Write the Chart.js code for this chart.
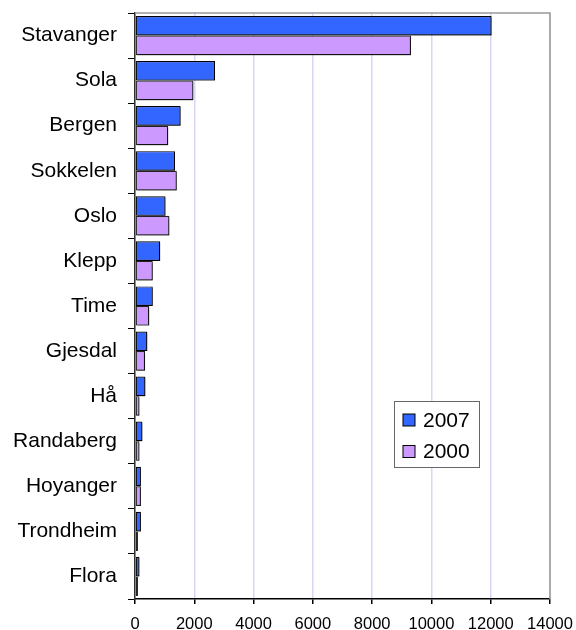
<!DOCTYPE html>
<html>
<head>
<meta charset="utf-8">
<script src="https://cdn.jsdelivr.net/npm/chart.js@4"></script>
<style>
    html, body { margin: 0; padding: 0; background: #fff; }
    #wrap { width: 576px; height: 630px; }
</style>
</head>
<body>
<div id="wrap"><canvas id="chart" width="576" height="630"></canvas></div>
<script>
// Data
const places = ['Stavanger', 'Sola', 'Bergen', 'Sokkelen', 'Oslo', 'Klepp', 'Time',
    'Gjesdal', 'Hå', 'Randaberg', 'Hoyanger', 'Trondheim', 'Flora'];
const values2007 = [12030, 2700, 1540, 1350, 1030, 850, 600, 415, 350, 250, 200, 200, 150];
const values2000 = [9310, 1970, 1120, 1410, 1160, 600, 480, 340, 150, 150, 200, 100, 100];
const xTicks = [0, 2000, 4000, 6000, 8000, 10000, 12000, 14000];

const FONT = "'Liberation Sans', Arial, sans-serif";

// Drop shadow under the bars
const barShadow = {
    id: 'barShadow',
    beforeDatasetsDraw(chart) {
        const ctx = chart.ctx;
        ctx.save();
        ctx.shadowColor = 'rgba(0,0,0,0.45)';
        ctx.shadowOffsetX = 1.5;
        ctx.shadowOffsetY = 1.5;
        ctx.shadowBlur = 0;
    },
    afterDatasetsDraw(chart) {
        chart.ctx.restore();
    }
};

// Gray frame on top and right of the plot
const plotFrame = {
    id: 'plotFrame',
    beforeDatasetsDraw(chart) {
        const { ctx, chartArea: a } = chart;
        ctx.save();
        ctx.strokeStyle = '#999';
        ctx.lineWidth = 1.5;
        ctx.beginPath();
        ctx.moveTo(a.left, a.top);
        ctx.lineTo(a.right, a.top);
        ctx.lineTo(a.right, a.bottom);
        ctx.stroke();
        ctx.restore();
    }
};

// Legend box inside the plot
const boxLegend = {
    id: 'boxLegend',
    afterDraw(chart) {
        const { ctx, chartArea: a } = chart;
        const x = a.right - 156, y = a.top + 388, w = 85, h = 66;
        ctx.save();
        ctx.fillStyle = '#fff';
        ctx.fillRect(x, y, w, h);
        ctx.strokeStyle = '#666';
        ctx.lineWidth = 1;
        ctx.strokeRect(x + 0.5, y + 0.5, w, h);
        ctx.font = '21px ' + FONT;
        ctx.textBaseline = 'middle';
        chart.data.datasets.forEach((ds, i) => {
            const cy = y + 19 + i * 31.5;
            ctx.fillStyle = ds.backgroundColor;
            ctx.fillRect(x + 9, cy - 6, 12, 12);
            ctx.strokeStyle = '#000';
            ctx.strokeRect(x + 9, cy - 6, 12, 12);
            ctx.fillStyle = '#000';
            ctx.fillText(ds.label, x + 29, cy + 1);
        });
        ctx.restore();
    }
};

// keep the layout padding in charge of the plot position
function noScalePadding(scale) {
    scale.paddingTop = 0;
    scale.paddingBottom = 0;
    scale.paddingLeft = 0;
    scale.paddingRight = 0;
}

const chart = new Chart(document.getElementById('chart'), {
    type: 'bar',
    data: {
        labels: places,
        datasets: [
            {
                label: '2007',
                data: values2007,
                backgroundColor: '#3366ff',
                borderColor: '#000',
                borderWidth: 1.2,
                borderSkipped: false
            },
            {
                label: '2000',
                data: values2000,
                backgroundColor: '#cc99ff',
                borderColor: '#222',
                borderWidth: 1.2,
                borderSkipped: false
            }
        ]
    },
    options: {
        indexAxis: 'y',
        responsive: false,
        animation: false,
        categoryPercentage: 0.87,
        barPercentage: 1.0,
        layout: { padding: { top: 13, right: 26, left: 0, bottom: 0 } },
        plugins: {
            legend: { display: false },
            tooltip: { enabled: false }
        },
        scales: {
            x: {
                min: 0,
                max: 14000,
                afterBuildTicks: (scale) => { scale.ticks = xTicks.map(v => ({ value: v })); },
                afterFit: (scale) => { scale.height = 31; noScalePadding(scale); },
                grid: {
                    color: '#d6d6f6',
                    lineWidth: 1.5,
                    tickColor: '#000',
                    tickLength: 5
                },
                border: { color: '#000', width: 1.5 },
                ticks: {
                    color: '#000',
                    padding: 11,
                    maxRotation: 0,
                    callback: (v) => String(v),
                    font: { family: FONT, size: 16.5 }
                }
            },
            y: {
                afterFit: (scale) => { scale.width = 135; noScalePadding(scale); },
                grid: {
                    offset: true,
                    drawOnChartArea: false,
                    tickColor: '#000',
                    tickLength: 7
                },
                border: { color: '#333', width: 1.5 },
                ticks: {
                    color: '#000',
                    padding: 11,
                    font: { family: FONT, size: 21 }
                }
            }
        }
    },
    plugins: [plotFrame, barShadow, boxLegend]
});
</script>
</body>
</html>
